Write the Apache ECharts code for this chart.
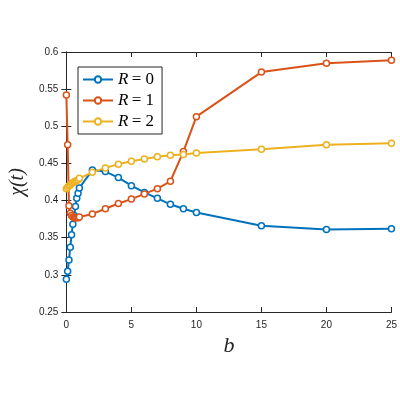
<!DOCTYPE html><html><head><script src="https://cdn.jsdelivr.net/npm/echarts@6/dist/echarts.min.js"></script></head><body style="margin:0"><div id="c" style="width:400px;height:400px"></div><script>
var b=[0,0.1,0.2,0.3,0.4,0.5,0.6,0.7,0.8,0.9,1,2,3,4,5,6,7,8,9,10,15,20,25];
var r0=[0.294,0.305,0.320,0.337,0.354,0.368,0.380,0.392,0.403,0.410,0.417,0.441,0.439,0.431,0.420,0.411,0.403,0.395,0.389,0.384,0.366,0.361,0.362];
var r1=[0.542,0.475,0.393,0.383,0.380,0.378,0.377,0.377,0.377,0.377,0.378,0.382,0.389,0.396,0.402,0.409,0.416,0.426,0.466,0.513,0.573,0.585,0.589];
var r2=[0.416,0.418,0.420,0.421,0.423,0.424,0.425,0.426,0.427,0.428,0.430,0.438,0.444,0.449,0.453,0.456,0.459,0.461,0.462,0.464,0.469,0.475,0.477];
var names=['R = 0','R = 1','R = 2'];var colors=['#0072BD','#D95319','#EDB120'];
function ser(i,d){return{name:names[i],type:'line',data:b.map(function(x,k){return[x,d[k]]}),symbol:'circle',symbolSize:6,itemStyle:{color:'#fff',borderColor:colors[i],borderWidth:1.5},lineStyle:{color:colors[i],width:2}}}
var ch=echarts.init(document.getElementById('c'));
var line={lineStyle:{color:'#262626'}};
var tick={inside:true,lineStyle:{color:'#262626'}};
var lab={color:'#262626',fontSize:10,fontFamily:'Liberation Sans'};
ch.setOption({animation:false,color:colors,
grid:{left:52,right:5,top:52,bottom:88},
legend:{orient:'vertical',left:78,top:67,itemWidth:30,itemHeight:8,itemGap:4,padding:[4,8,4,4],borderColor:'#262626',borderWidth:1,backgroundColor:'#fff',
 formatter:function(n){var v=n.split(' = ')[1];return '{i|R} {n|= '+v+'}'},
 textStyle:{color:'#000',rich:{i:{fontStyle:'italic',fontFamily:'Liberation Serif',fontSize:17,color:'#000'},n:{fontFamily:'Liberation Serif',fontSize:17,color:'#000'}}}},
xAxis:[{type:'value',min:0,max:25,interval:5,name:'b',nameLocation:'middle',nameGap:22,nameTextStyle:{fontStyle:'italic',fontFamily:'Liberation Serif',fontSize:22,color:'#262626'},axisLine:line,axisTick:tick,axisLabel:lab,splitLine:{show:false}},
 {type:'value',position:'top',min:0,max:25,interval:5,axisLine:line,axisTick:tick,axisLabel:{show:false},splitLine:{show:false}}],
yAxis:[{type:'value',min:0.25,max:0.6,interval:0.05,name:'χ(t)',nameLocation:'middle',nameGap:30,nameTextStyle:{fontStyle:'italic',fontFamily:'Liberation Serif',fontSize:20,color:'#262626'},axisLine:line,axisTick:tick,axisLabel:Object.assign({formatter:function(v){return +v.toFixed(2)}},lab),splitLine:{show:false}},
 {type:'value',position:'right',min:0.25,max:0.6,interval:0.05,axisLine:line,axisTick:tick,axisLabel:{show:false},splitLine:{show:false}}],
series:[ser(0,r0),ser(1,r1),ser(2,r2)]});
</script></body></html>
